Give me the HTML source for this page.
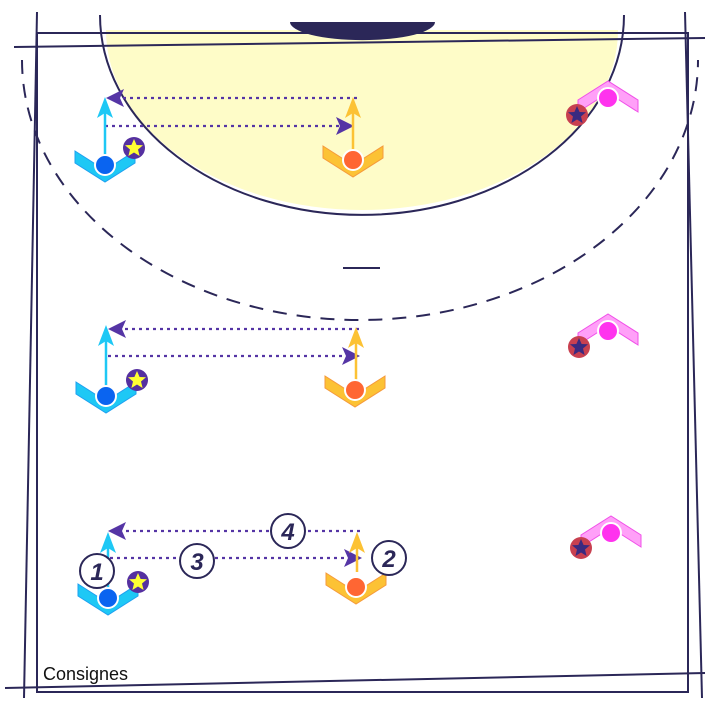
<!DOCTYPE html>
<html><head><meta charset="utf-8"><style>
html,body{margin:0;padding:0;background:#fff;}
svg{display:block;}
text{font-family:"Liberation Sans",sans-serif;}
</style></head><body>
<svg width="720" height="720" viewBox="0 0 720 720" xmlns="http://www.w3.org/2000/svg">
<defs>
<marker id="ah" viewBox="0 0 10 10" refX="9" refY="5" markerWidth="7" markerHeight="7" orient="auto" markerUnits="userSpaceOnUse">
</marker>
<g id="blue">
<polygon points="-30,-14 -8,0 8,0 30,-14 30,-2 0,17 -30,-2" fill="#1ec8f5" stroke="#1ea0f0" stroke-width="1"/>
<circle cx="0" cy="0" r="10" fill="#0a64f0" stroke="#fff" stroke-width="2"/>
</g>
<g id="orange">
<polygon points="-30,-14 -8,0 8,0 30,-14 30,-2 0,17 -30,-2" fill="#fcc234" stroke="#f59a3c" stroke-width="1"/>
<circle cx="0" cy="0" r="10" fill="#ff6633" stroke="#fff" stroke-width="2"/>
</g>
<g id="pink">
<polygon points="-30,14 -8,0 8,0 30,14 30,2 0,-17 -30,2" fill="#ffa0f8" stroke="#f050e8" stroke-width="1"/>
<circle cx="0" cy="0" r="10" fill="#ff33ee" stroke="#fff" stroke-width="2"/>
</g>
<g id="ball">
<circle r="11" fill="#5530a0"/>
<polygon points="0,-9 2.6,-3 9,-2.8 4,1.5 5.6,8 0,4.5 -5.6,8 -4,1.5 -9,-2.8 -2.6,-3" fill="#ffff33"/>
</g>
<g id="def">
<circle r="11" fill="#c84050"/>
<polygon points="0,-9 2.6,-3 9,-2.8 4,1.5 5.6,8 0,4.5 -5.6,8 -4,1.5 -9,-2.8 -2.6,-3" fill="#3a2a80"/>
</g>
</defs>

<!-- goal area fill -->
<path d="M106,30 A256,180 0 0 0 618,30 Z" fill="#fefcc8"/>
<path d="M290,22 A72,18 0 0 0 435,22 Z" fill="#2b2758"/>
<!-- court lines -->
<g fill="none" stroke="#2b2758" stroke-width="2">
<rect x="37" y="33" width="651" height="659"/>
<line x1="37" y1="12" x2="24" y2="698"/>
<line x1="685" y1="12" x2="702" y2="698"/>
<line x1="14" y1="47" x2="705" y2="38"/>
<line x1="5" y1="688" x2="705" y2="673"/>
<path d="M100,15 A262,200 0 0 0 624,15"/>
<path d="M22,60 A338,260 0 0 0 698,60" stroke-dasharray="14,10"/>
<line x1="343" y1="268" x2="380" y2="268"/>
</g>

<!-- movement lines -->
<g stroke="#5535a5" stroke-width="2.2" stroke-dasharray="3,4" fill="none">
<line x1="357" y1="98" x2="118" y2="98"/>
<line x1="105" y1="126" x2="342" y2="126"/>
<line x1="359" y1="329" x2="120" y2="329"/>
<line x1="108" y1="356" x2="348" y2="356"/>
<line x1="360" y1="531" x2="120" y2="531"/>
<line x1="110" y1="558" x2="350" y2="558"/>
</g>
<g fill="#5535a5">
<polygon points="106,98 124,89 120,98 124,107"/>
<polygon points="354,126 336,117 340,126 336,135"/>
<polygon points="108,329 126,320 122,329 126,338"/>
<polygon points="360,356 342,347 346,356 342,365"/>
<polygon points="108,531 126,522 122,531 126,540"/>
<polygon points="362,558 344,549 348,558 344,567"/>
</g>

<!-- runs up -->
<g stroke-width="2.5">
<line x1="105" y1="160" x2="105" y2="110" stroke="#1ec8f5"/>
<line x1="353" y1="155" x2="353" y2="110" stroke="#fcc234"/>
<line x1="106" y1="390" x2="106" y2="338" stroke="#1ec8f5"/>
<line x1="356" y1="385" x2="356" y2="340" stroke="#fcc234"/>
<line x1="108" y1="592" x2="108" y2="545" stroke="#1ec8f5"/>
<line x1="357" y1="572" x2="357" y2="545" stroke="#fcc234"/>
</g>
<polygon points="105,97 97,118 105,113 113,118" fill="#1ec8f5"/>
<polygon points="353,97 345,118 353,113 361,118" fill="#fcc234"/>
<polygon points="106,325 98,346 106,341 114,346" fill="#1ec8f5"/>
<polygon points="356,327 348,348 356,343 364,348" fill="#fcc234"/>
<polygon points="108,532 100,553 108,548 116,553" fill="#1ec8f5"/>
<polygon points="357,532 349,553 357,548 365,553" fill="#fcc234"/>

<!-- players -->
<use href="#blue" x="105" y="165"/>
<use href="#orange" x="353" y="160"/>
<use href="#pink" x="608" y="98"/>
<use href="#ball" x="134" y="148"/>
<use href="#def" x="577" y="115"/>

<use href="#blue" x="106" y="396"/>
<use href="#orange" x="355" y="390"/>
<use href="#pink" x="608" y="331"/>
<use href="#ball" x="137" y="380"/>
<use href="#def" x="579" y="347"/>

<use href="#blue" x="108" y="598"/>
<use href="#orange" x="356" y="587"/>
<use href="#pink" x="611" y="533"/>
<use href="#ball" x="138" y="582"/>
<use href="#def" x="581" y="548"/>

<!-- number circles -->
<g fill="#fff" stroke="#2b2758" stroke-width="2">
<circle cx="97" cy="571" r="17"/>
<circle cx="389" cy="558" r="17"/>
<circle cx="197" cy="561" r="17"/>
<circle cx="288" cy="531" r="17"/>
</g>
<g fill="#2b2758" font-size="24" font-style="italic" font-weight="bold" text-anchor="middle">
<text x="97" y="580">1</text>
<text x="389" y="567">2</text>
<text x="197" y="570">3</text>
<text x="288" y="540">4</text>
</g>

<text x="43" y="680" font-size="18" fill="#111">Consignes</text>
</svg>
</body></html>
